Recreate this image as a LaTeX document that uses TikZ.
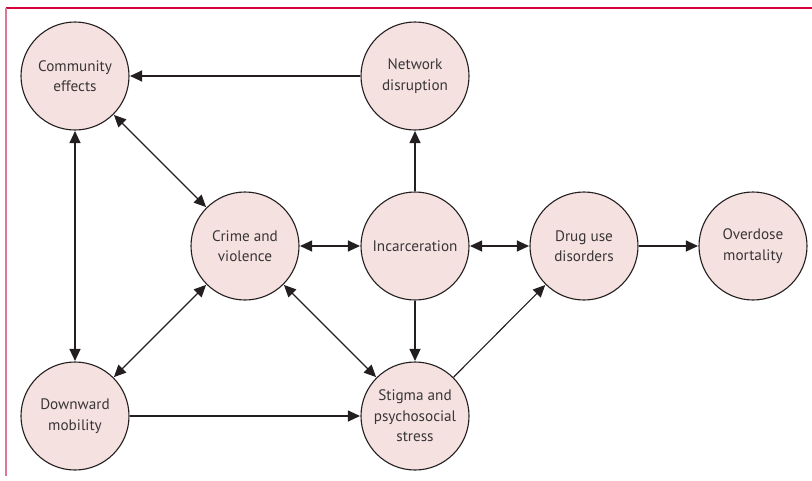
\documentclass[tikz,border=0pt]{standalone}
\usepackage{fontspec}
\setmainfont{PT Sans}
\usetikzlibrary{arrows.meta}
\definecolor{nodefill}{RGB}{245,226,224}
\definecolor{nodeline}{RGB}{35,31,32}
\definecolor{frametop}{RGB}{214,0,58}
\definecolor{frameleft}{RGB}{218,120,150}
\begin{document}
\begin{tikzpicture}[x=1pt,y=-1pt,
  state/.style={circle,draw=nodeline,fill=nodefill,line width=1.1pt,minimum size=108pt,inner sep=0pt,
    align=center,font=\fontsize{15.2}{20.5}\selectfont,text=nodeline!90},
  link/.style={draw=nodeline,line width=1.1pt,-{Triangle[length=12pt,width=11pt]},shorten >=0.5pt},
  dlink/.style={draw=nodeline,line width=1.1pt,{Triangle[length=12pt,width=11pt]}-{Triangle[length=12pt,width=11pt]},shorten >=0.5pt,shorten <=0.5pt}]
\useasboundingbox (0,0) rectangle (812,480);
\draw[frametop,line width=1.4pt] (6,8) -- (812,8);
\draw[frameleft,line width=1.4pt] (6,8) -- (6,476);
\node[state] (comm) at (75,76) {Community\\effects};
\node[state] (net) at (415,76) {Network\\disruption};
\node[state] (crime) at (245,246) {Crime and\\violence};
\node[state] (inc) at (415,246) {Incarceration};
\node[state] (drug) at (584,246) {Drug use\\disorders};
\node[state] (od) at (753,246) {Overdose\\mortality};
\node[state] (down) at (75,416) {Downward\\mobility};
\node[state] (stig) at (415,416) {Stigma and\\psychosocial\\stress};
\draw[link] (net) -- (comm);
\draw[dlink] (comm) -- (down);
\draw[dlink] (comm) -- (crime);
\draw[dlink] (crime) -- (down);
\draw[dlink] (crime) -- (inc);
\draw[dlink] (crime) -- (stig);
\draw[link] (inc) -- (net);
\draw[link] (inc) -- (stig);
\draw[dlink] (inc) -- (drug);
\draw[link] (drug) -- (od);
\draw[link] (stig) -- (drug);
\draw[link] (down) -- (stig);
\end{tikzpicture}
\end{document}
